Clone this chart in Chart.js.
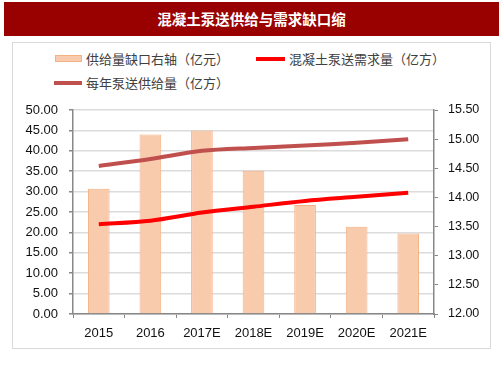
<!DOCTYPE html>
<html>
<head>
<meta charset="utf-8">
<script src="https://cdn.jsdelivr.net/npm/chart.js@4/dist/chart.umd.min.js"></script>
<style>
  body { margin: 0; background: #fff; width: 503px; height: 378px; position: relative; overflow: hidden; }
  #title { position: absolute; left: 4px; top: 2px; width: 495px; height: 34px; background: #990000; color: #fff;
           font: bold 14.5px "Noto Sans CJK SC", sans-serif; text-align: center; line-height: 34px; }
  #frame { position: absolute; left: 12px; top: 42px; width: 477px; height: 305px; border: 1px solid #d9d9d9; }
  .lg { position: absolute; font: 13px "Noto Sans CJK SC", sans-serif; color: #404040; line-height: 16px; white-space: nowrap; }
  .sw { position: absolute; }
  #c { position: absolute; left: 0; top: 0; }
</style>
</head>
<body>
<div id="title">混凝土泵送供给与需求缺口缩</div>
<div id="frame"></div>
<div class="sw" style="left:55px;top:55px;width:27px;height:7px;background:#F8CBAD;border:1px solid #F4B183;box-sizing:border-box;"></div>
<div class="lg" style="left:86px;top:51px;">供给量缺口右轴（亿元）</div>
<div class="sw" style="left:256px;top:57px;width:29px;height:4px;background:#FF0000;"></div>
<div class="lg" style="left:289px;top:51px;">混凝土泵送需求量（亿方）</div>
<div class="sw" style="left:54px;top:81px;width:28px;height:4px;background:#C0504D;"></div>
<div class="lg" style="left:86px;top:75px;">每年泵送供给量（亿方）</div>
<canvas id="c" width="503" height="378"></canvas>
<script>
// 数据
const years = ['2015', '2016', '2017E', '2018E', '2019E', '2020E', '2021E'];
const gap = [30.7, 44.0, 45.0, 35.1, 26.7, 21.4, 19.7];        // 供给量缺口（左轴刻度）
const demand = [13.54, 13.60, 13.74, 13.84, 13.94, 14.01, 14.08]; // 需求量
const supply = [14.54, 14.66, 14.80, 14.85, 14.89, 14.94, 15.00]; // 供给量

const tickFont = { family: 'Liberation Sans, Arial', size: 13 };

new Chart(document.getElementById('c'), {
  type: 'bar',
  data: {
    labels: years,
    datasets: [
      {
        type: 'line', label: '混凝土泵送需求量（亿方）', data: demand, yAxisID: 'y1',
        borderColor: '#FF0000', borderWidth: 4, pointRadius: 0, tension: 0.3, order: 1
      },
      {
        type: 'line', label: '每年泵送供给量（亿方）', data: supply, yAxisID: 'y1',
        borderColor: '#C0504D', borderWidth: 4, pointRadius: 0, tension: 0.3, order: 1
      },
      {
        label: '供给量缺口右轴（亿元）', data: gap, yAxisID: 'y',
        backgroundColor: '#F8CBAD', borderColor: '#F4B183', borderWidth: 1,
        barPercentage: 0.84, categoryPercentage: 0.5, order: 2
      }
    ]
  },
  options: {
    responsive: false,
    animation: false,
    layout: { padding: { top: 110, left: 0, right: 0, bottom: 0 } },
    plugins: { legend: { display: false }, tooltip: { enabled: false } },
    scales: {
      x: {
        grid: { offset: true, drawOnChartArea: false, tickLength: 4, color: '#888' },
        border: { color: '#888', width: 1.5 },
        ticks: { color: '#111', font: tickFont, padding: 8 },
        afterFit: s => { s.height = 64; }
      },
      y: {
        position: 'left', min: 0, max: 50,
        ticks: { stepSize: 5, color: '#111', font: tickFont, padding: 11, callback: v => v.toFixed(2) },
        grid: { color: '#dcdcdc', lineWidth: 1.5, tickLength: 4, tickColor: '#888' },
        border: { color: '#888', width: 1.5 },
        afterFit: s => { s.width = 73; }
      },
      y1: {
        position: 'right', min: 12, max: 15.5,
        ticks: { stepSize: 0.5, color: '#111', font: { family: 'Liberation Sans, Arial', size: 12.5 }, padding: 10, callback: v => v.toFixed(2) },
        grid: { drawOnChartArea: false, tickLength: 4, color: '#888' },
        border: { color: '#888', width: 1.5 },
        afterFit: s => { s.width = 69; }
      }
    }
  }
});
</script>
</body>
</html>
